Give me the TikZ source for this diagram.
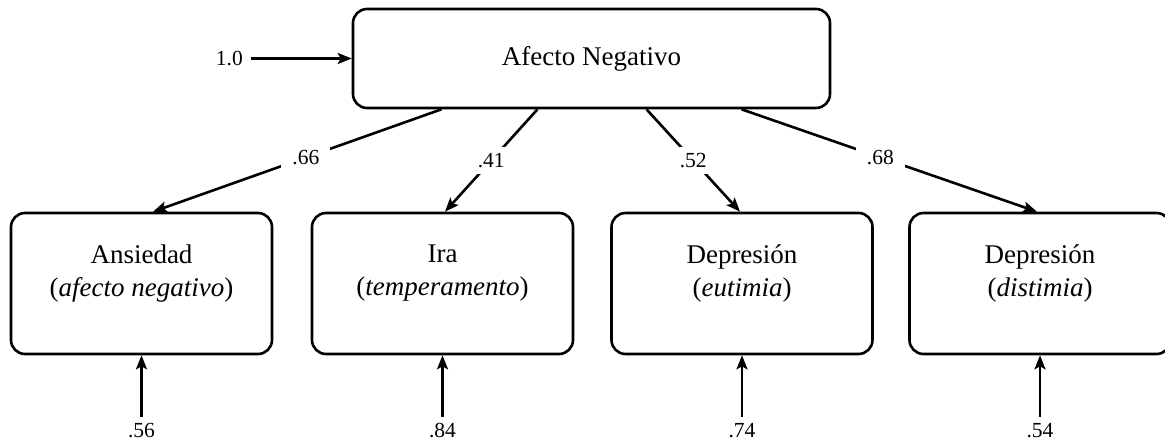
\documentclass[tikz,border=0pt]{standalone}
\usepackage{fontspec}
\setmainfont{Liberation Serif}
\usetikzlibrary{arrows.meta}
\begin{document}
\begin{tikzpicture}[x=1pt,y=-1pt,
  box/.style={draw, line width=2.6pt, rounded corners=14pt, minimum width=261pt, minimum height=141pt, inner sep=0pt},
  boxtxt/.style={font=\fontsize{27}{33}\selectfont, align=center, inner sep=0pt},
  conn/.style={line width=2.6pt, -{Stealth[length=14pt,width=11pt,inset=3pt]}},
  lab/.style={font=\fontsize{21.5}{25}\selectfont, fill=white, inner xsep=11pt, inner ysep=6pt},
  errlab/.style={font=\fontsize{21.5}{25}\selectfont, inner sep=0pt},
  ]
\clip (0,0) rectangle (1165,442);
% top factor
\node[box, minimum width=477pt, minimum height=99pt] (top) at (591.5,58.5) {};
\node[boxtxt] (ttop) at (top.center) {Afecto Negativo};
% indicators
\node[box] (b1) at (141.5,283.5) {};
\node[box] (b2) at (442.5,283.5) {};
\node[box] (b3) at (742,283.5) {};
\node[box] (b4) at (1040,283.5) {};
\node[boxtxt] (t1) at (141.5,273.5) {Ansiedad\\(\textit{afecto negativo})};
\node[boxtxt] (t2) at (442.5,273.5) {Ira\\(\textit{temperamento})};
\node[boxtxt] (t3) at (742,273.5) {Depresión\\(\textit{eutimia})};
\node[boxtxt] (t4) at (1040,273.5) {Depresión\\(\textit{distimia})};
% variance of factor
\node[errlab, anchor=east] (l0) at (243,58.5) {1.0};
\draw[conn] ([xshift=8pt]l0.east) -- (top.west);
% loadings
\draw[conn] ([xshift=-150pt]top.south) -- node[lab, pos=0.47] {.66} ([xshift=11.5pt]b1.north);
\draw[conn] ([xshift=-54pt]top.south) -- node[lab, pos=0.5] {.41} ([xshift=2.5pt]b2.north);
\draw[conn] ([xshift=55pt]top.south) -- node[lab, pos=0.5] {.52} ([xshift=-2pt]b3.north);
\draw[conn] ([xshift=150pt]top.south) -- node[lab, pos=0.47] {.68} ([xshift=-3pt]b4.north);
% errors
\node[errlab, anchor=base] (e1) at (141.5,437) {.56};
\node[errlab, anchor=base] (e2) at (442.5,437) {.84};
\node[errlab, anchor=base] (e3) at (742,437) {.74};
\node[errlab, anchor=base] (e4) at (1040,437) {.54};
\draw[conn] ([yshift=6pt]e1.north) -- (b1.south);
\draw[conn] ([yshift=6pt]e2.north) -- (b2.south);
\draw[conn] ([yshift=6pt]e3.north) -- (b3.south);
\draw[conn] ([yshift=6pt]e4.north) -- (b4.south);
\end{tikzpicture}
\end{document}
